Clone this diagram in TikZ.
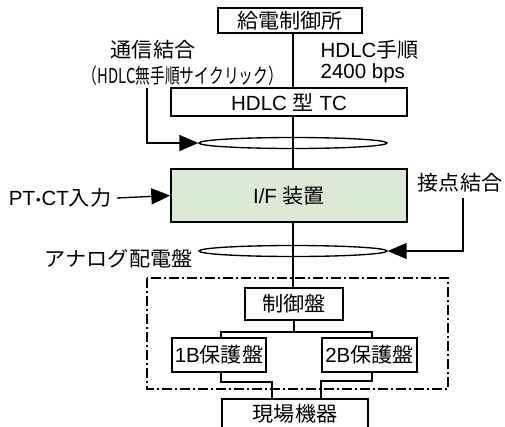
\documentclass[tikz,border=0pt]{standalone}
\usepackage{fontspec}
\setmainfont{Liberation Sans}
\newfontfamily\jp{Noto Sans CJK JP}[FakeStretch=1.03]
\usetikzlibrary{arrows.meta,shapes.geometric}
\definecolor{ifgreen}{RGB}{218,234,212}
\newcommand{\middot}{\hspace{1pt}\raisebox{1pt}{\fontsize{13}{13}\selectfont •}\hspace{1pt}}
\begin{document}
\begin{tikzpicture}[x=1pt,y=-1pt,
  line width=1.35pt,
  txt/.style={font=\fontsize{20.5}{24}\selectfont, inner sep=0pt},
  boxnode/.style={draw, txt, inner sep=0pt, anchor=center},
  tip/.style={-{Triangle[length=19pt,width=16pt]}},
  ring/.style={ellipse, draw, minimum width=188pt, minimum height=11pt, inner sep=0pt},
  dashdot/.style={line width=1.35pt, dash pattern=on 10pt off 3pt on 2pt off 3pt}
]
\useasboundingbox (0,0) rectangle (505,426);
\clip (0,0) rectangle (505,426);
\coordinate (axis) at (293,0);

% boxes
\node[boxnode, minimum width=144pt, minimum height=25pt] (kyuden) at (290,20.5) {\jp 給電制御所};
\node[boxnode, minimum width=236pt, minimum height=28pt] (tc) at (289,102) {HDLC {\jp 型} TC};
\node[boxnode, fill=ifgreen, minimum width=236pt, minimum height=53pt] (ifd) at (289,195.5) {I/F {\jp 装置}};
\node[ring] (ring1) at (293,143) {};
\node[ring] (ring2) at (293,251) {};
\node[boxnode, minimum width=98pt, minimum height=32pt] (seigyo) at (294,304) {\jp 制御盤};
\node[boxnode, minimum width=94pt, minimum height=34pt] (b1) at (219,355) {1B{\jp 保護盤}};
\node[boxnode, minimum width=95pt, minimum height=34pt] (b2) at (369.5,355) {2B{\jp 保護盤}};
\node[boxnode, minimum width=146pt, minimum height=34pt] (genba) at (295,416) {};
\node[txt] (genbatxt) at (295,414) {\jp 現場機器};

% dash-dot frame
\draw[dashdot] (147,278) rectangle (448,389);

% labels
\node[txt] (tsushin) at (153,50) {\jp 通信結合};
\node[txt] (hdlcnote) at (183,76) {\scalebox{0.7}[1]{\jp （HDLC無手順サイクリック）}};
\node[txt, anchor=west] (hdlcproc) at (320,50) {HDLC{\jp 手順}};
\node[txt, anchor=west] (bps) at (320,73) {2400 bps};
\node[txt] (ptct) at (60,198) {PT\middot CT{\jp 入力}};
\node[txt, anchor=east] (setten) at (503,183) {\jp 接点結合};
\node[txt, anchor=east] (analog) at (193,259) {\jp アナログ配電盤};

% main vertical line
\draw (kyuden.south -| axis) -- (tc.north -| axis);
\draw (tc.south -| axis) -- (ifd.north -| axis);
\draw (ifd.south -| axis) -- (seigyo.north -| axis);

% arrows
\coordinate (a1) at (147,88);
\draw[tip] (a1) |- (ring1.west);
\draw[tip] (ptct.east) ++(5pt,0) -- (ifd.west);
\coordinate (a2) at (463,198);
\draw[tip] (a2) |- (ring2.east);

% tree
\coordinate (tj) at (294,332);
\draw (seigyo.south) -- (tj);
\draw (b1.north -| 221,0) |- (tj) -| (b2.north -| 372,0);
\coordinate (c1) at (221,382);
\coordinate (c2) at (372,381);
\draw (b1.south -| c1) -- (c1) -| (genba.north -| 272,0);
\draw (b2.south -| c2) -- (c2) -| (genba.north -| 321,0);
\end{tikzpicture}
\end{document}
